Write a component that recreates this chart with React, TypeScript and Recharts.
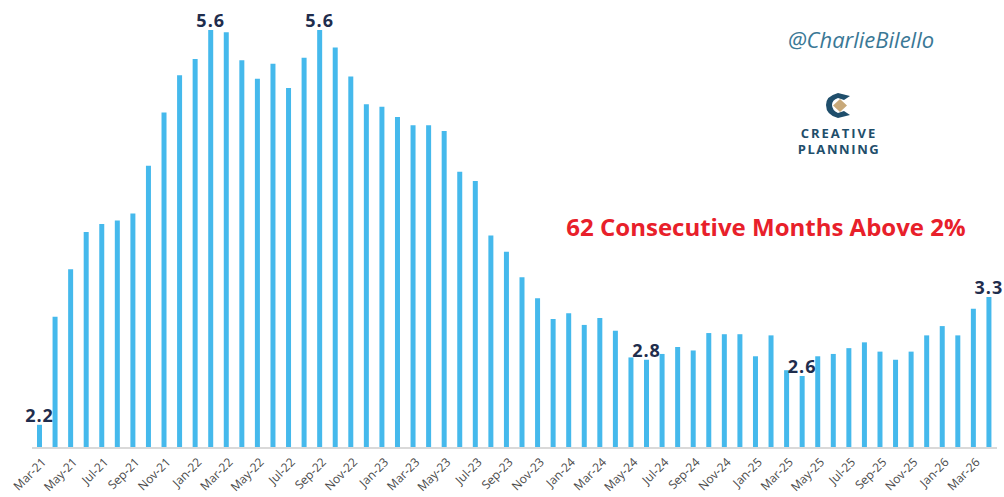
import React from 'react';
import { BarChart, Bar, XAxis, YAxis, LabelList, Customized } from 'recharts';

const months = [
  'Mar-21', 'Apr-21', 'May-21', 'Jun-21', 'Jul-21', 'Aug-21', 'Sep-21', 'Oct-21', 'Nov-21', 'Dec-21',
  'Jan-22', 'Feb-22', 'Mar-22', 'Apr-22', 'May-22', 'Jun-22', 'Jul-22', 'Aug-22', 'Sep-22', 'Oct-22', 'Nov-22', 'Dec-22',
  'Jan-23', 'Feb-23', 'Mar-23', 'Apr-23', 'May-23', 'Jun-23', 'Jul-23', 'Aug-23', 'Sep-23', 'Oct-23', 'Nov-23', 'Dec-23',
  'Jan-24', 'Feb-24', 'Mar-24', 'Apr-24', 'May-24', 'Jun-24', 'Jul-24', 'Aug-24', 'Sep-24', 'Oct-24', 'Nov-24', 'Dec-24',
  'Jan-25', 'Feb-25', 'Mar-25', 'Apr-25', 'May-25', 'Jun-25', 'Jul-25', 'Aug-25', 'Sep-25', 'Oct-25', 'Nov-25', 'Dec-25',
  'Jan-26', 'Feb-26', 'Mar-26', 'Apr-26',
];

const values = [
  2.2, 3.13, 3.54, 3.86, 3.93, 3.96, 4.02, 4.43, 4.89, 5.21,
  5.35, 5.6, 5.58, 5.34, 5.18, 5.31, 5.1, 5.36, 5.6, 5.45, 5.2, 4.96,
  4.94, 4.85, 4.78, 4.78, 4.73, 4.38, 4.3, 3.83, 3.69, 3.47, 3.29, 3.11,
  3.16, 3.06, 3.12, 3.01, 2.78, 2.76, 2.81, 2.87, 2.84, 2.99, 2.98, 2.98,
  2.79, 2.97, 2.67, 2.62, 2.79, 2.81, 2.86, 2.91, 2.83, 2.76, 2.83, 2.97,
  3.05, 2.97, 3.2, 3.3,
];

// months that get a value label above the bar
const labelled = ['Mar-21', 'Feb-22', 'Sep-22', 'Jun-24', 'Apr-25', 'Apr-26'];

const data = months.map((m, i) => ({
  month: m,
  value: values[i],
  label: labelled.includes(m) ? values[i].toFixed(1) : null,
}));

const BAR = '#45b9ec';

const AngledTick = (props: any) => {
  const { x, y, payload } = props;
  return (
    <g transform={`translate(${x + 7},${y + 7})`}>
      <text
        transform="rotate(-45)"
        textAnchor="end"
        fontSize={12}
        fill="#4a4a4a"
        fontFamily="'Open Sans', sans-serif"
      >
        {payload.value}
      </text>
    </g>
  );
};

const ValueLabel = (props: any) => {
  const { x, y, width, value } = props;
  if (!value) return null;
  return (
    <text
      x={x + width / 2}
      y={y - 3}
      textAnchor="middle"
      fontSize={18}
      fontWeight="bold"
      letterSpacing={1}
      fill="#1f2d4d"
      fontFamily="'Open Sans', sans-serif"
    >
      {value}
    </text>
  );
};

const Branding = () => (
  <g fontFamily="'Open Sans', sans-serif">
    <text x={861} y={48} textAnchor="middle" fontSize={22} fontStyle="italic" fill="#3a7896">
      @CharlieBilello
    </text>
    <path d="M 850 96 L 838 93 Q 826 96 826 105 Q 826 115 838 118 L 850 115 L 844 111 L 838 113 Q 832 110 832 105 Q 832 100 838 98 L 844 100 Z" fill="#1f4e6b" />
    <path d="M 840 99 L 847 105.5 L 840 112 L 833 105.5 Z" fill="#c8a97a" />
    <text x={839} y={138} textAnchor="middle" fontSize={13} fontWeight="bold" letterSpacing={2} fill="#1f4e6b">
      CREATIVE
    </text>
    <text x={839} y={154} textAnchor="middle" fontSize={13} fontWeight="bold" letterSpacing={1.6} fill="#1f4e6b">
      PLANNING
    </text>
    <text x={766} y={236} textAnchor="middle" fontSize={24} fontWeight="bold" fill="#e8202a">
      62 Consecutive Months Above 2%
    </text>
  </g>
);

export default function App() {
  return (
    <div style={{ position: 'fixed', left: 0, top: 0, width: 1004, height: 497, background: '#fff' }}>
      <BarChart
        width={1004}
        height={497}
        data={data}
        margin={{ top: 30, right: 7, bottom: 0, left: 32 }}
        barCategoryGap={0}
      >
        <XAxis
          dataKey="month"
          interval={1}
          height={49}
          tickLine={false}
          axisLine={{ stroke: '#d9d9d9', strokeWidth: 2 }}
          tick={<AngledTick />}
        />
        <YAxis hide domain={[2, 5.6]} allowDataOverflow />
        <Bar dataKey="value" fill={BAR} barSize={5} isAnimationActive={false}>
          <LabelList dataKey="label" content={<ValueLabel />} />
        </Bar>
        <Customized component={<Branding />} />
      </BarChart>
    </div>
  );
}
